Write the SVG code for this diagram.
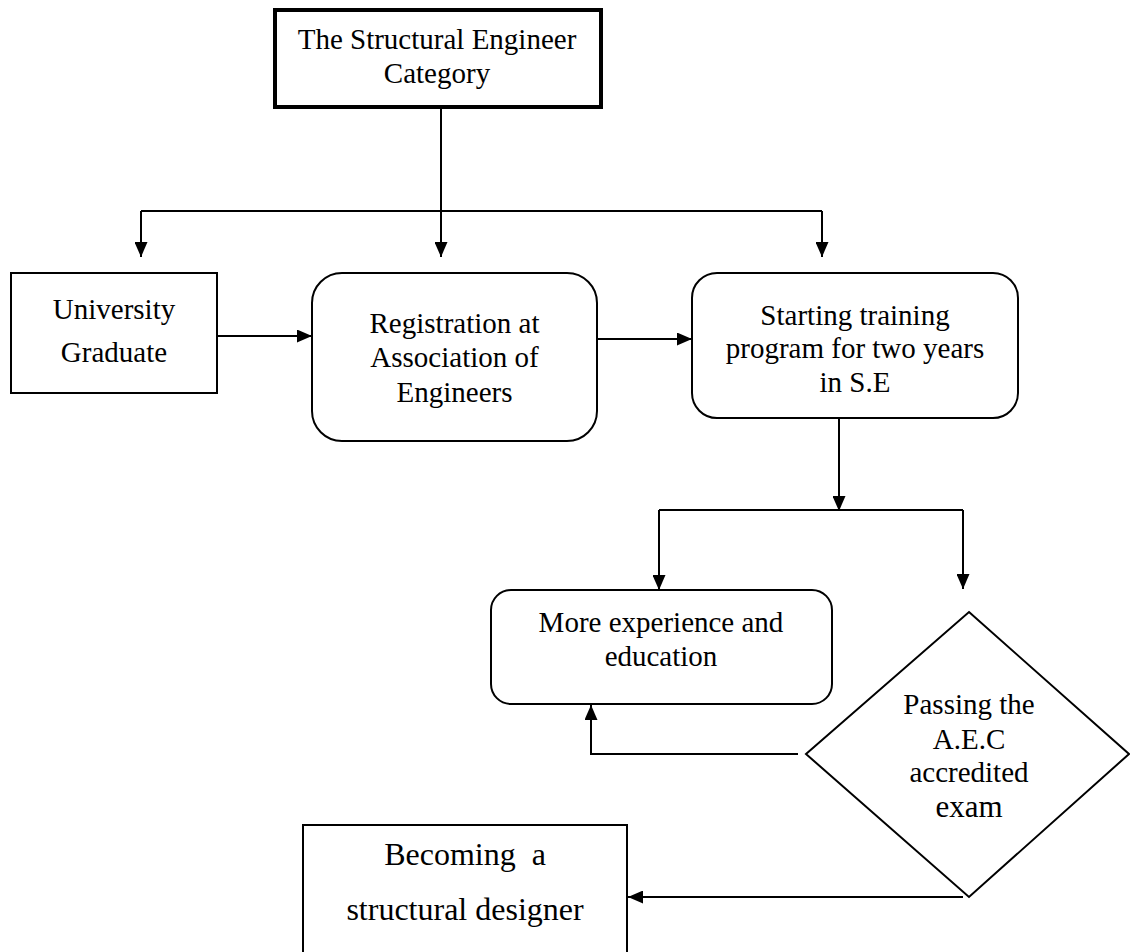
<svg xmlns="http://www.w3.org/2000/svg" width="1130" height="952" viewBox="0 0 1130 952">
<defs>
<marker id="arr" markerUnits="userSpaceOnUse" markerWidth="15" markerHeight="13" refX="15" refY="6.5" orient="auto">
<path d="M0,0 L15,6.5 L0,13 z" fill="#000"/>
</marker>
<style>
.box{fill:#fff;stroke:#000;stroke-width:2}
.thick{fill:#fff;stroke:#000;stroke-width:4}
.ln{fill:none;stroke:#000;stroke-width:2}
.ar{fill:none;stroke:#000;stroke-width:2;marker-end:url(#arr)}
text{font-family:'Liberation Serif','Times New Roman',serif;font-size:29px;fill:#000;text-anchor:middle}
</style>
</defs>
<rect width="1130" height="952" fill="#fff"/>
<g id="connectors">
<line class="ln" x1="441" y1="108" x2="441" y2="211"/>
<line class="ln" x1="141" y1="211" x2="822" y2="211"/>
<line class="ar" x1="141" y1="211" x2="141" y2="257"/>
<line class="ar" x1="441" y1="211" x2="441" y2="257"/>
<line class="ar" x1="822" y1="211" x2="822" y2="257"/>
<line class="ar" x1="217" y1="336" x2="312" y2="336"/>
<line class="ar" x1="597" y1="339" x2="692" y2="339"/>
<line class="ar" x1="839" y1="418" x2="839" y2="511"/>
<line class="ln" x1="659" y1="510" x2="963" y2="510"/>
<line class="ar" x1="659" y1="510" x2="659" y2="590"/>
<line class="ar" x1="963" y1="510" x2="963" y2="589"/>
<path class="ar" d="M798,754 H591 V705"/>
<path class="ar" d="M963,897 H628"/>
</g>
<g id="n-category">
<rect class="thick" x="275" y="10" width="326" height="97"/>
<text x="437" y="49">The Structural Engineer</text>
<text x="437" y="83">Category</text>
</g>
<g id="n-university">
<rect class="box" x="11" y="273" width="206" height="120"/>
<text x="114" y="319">University</text>
<text x="114" y="362">Graduate</text>
</g>
<g id="n-registration">
<rect class="box" x="312" y="273" width="285" height="168" rx="30" ry="30"/>
<text x="454.5" y="333">Registration at</text>
<text x="454.5" y="367">Association of</text>
<text x="454.5" y="402">Engineers</text>
</g>
<g id="n-training">
<rect class="box" x="692" y="273" width="326" height="145" rx="25" ry="25"/>
<text x="855" y="325">Starting training</text>
<text x="855" y="358">program for two years</text>
<text x="855" y="392">in S.E</text>
</g>
<g id="n-experience">
<rect class="box" x="491" y="590" width="341" height="114" rx="20" ry="20"/>
<text x="661" y="632">More experience and</text>
<text x="661" y="666">education</text>
</g>
<g id="n-exam">
<polygon class="box" points="969,612 1129,754 969,897 806,754"/>
<text x="969" y="714">Passing the</text>
<text x="969" y="749">A.E.C</text>
<text x="969" y="782">accredited</text>
<text x="969" y="817" style="font-size:31px">exam</text>
</g>
<g id="n-designer">
<rect class="box" x="303" y="825" width="324" height="140"/>
<text x="465" y="865" style="font-size:32px;white-space:pre">Becoming  a</text>
<text x="465" y="920" style="font-size:32px">structural designer</text>
</g>
</svg>
